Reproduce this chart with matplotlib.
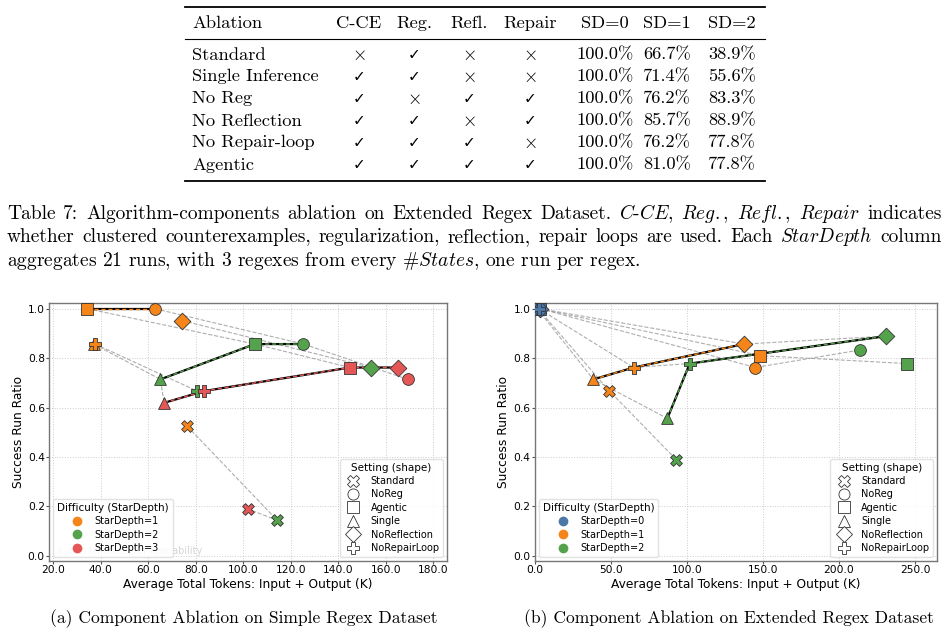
import numpy as np
import matplotlib.pyplot as plt
from matplotlib.lines import Line2D
from matplotlib.ticker import FormatStrFormatter

plt.rcParams['mathtext.fontset'] = 'cm'
SERIF = ['cmr10', 'DejaVu Serif']

# settings (marker shapes)
settings = ['Standard', 'NoReg', 'Agentic', 'Single', 'NoReflection', 'NoRepairLoop']
setting_markers = ['X', 'o', 's', '^', 'D', 'P']

# (a) simple regex dataset, per StarDepth, in settings order
simple_depths = [1, 2, 3]
simple_sd1_tokens = [76.4, 62.8, 34.3, 37.0, 74.2, 37.6]
simple_sd1_success = [0.524, 1.0, 1.0, 0.857, 0.952, 0.857]
simple_sd2_tokens = [114.3, 125.3, 104.8, 65.1, 153.8, 80.5]
simple_sd2_success = [0.143, 0.857, 0.857, 0.714, 0.762, 0.667]
simple_sd3_tokens = [101.8, 169.3, 144.9, 66.6, 165.0, 83.6]
simple_sd3_success = [0.190, 0.714, 0.762, 0.619, 0.762, 0.667]

# (b) extended regex dataset
ext_depths = [0, 1, 2]
ext_sd0_tokens = [2.0, 3.5, 3.0, 1.5, 3.2, 2.5]
ext_sd0_success = [1.0, 1.0, 1.0, 1.0, 1.0, 1.0]
ext_sd1_tokens = [48.9, 145.0, 148.2, 38.4, 137.5, 64.9]
ext_sd1_success = [0.667, 0.762, 0.810, 0.714, 0.857, 0.762]
ext_sd2_tokens = [93.0, 213.8, 245.0, 87.1, 230.9, 101.8]
ext_sd2_success = [0.389, 0.833, 0.778, 0.556, 0.889, 0.778]

depth_colors = {0: '#4c78a8', 1: '#f58518', 2: '#54a24b', 3: '#e45756'}

# table 7
table_header = ['Ablation', 'C-CE', 'Reg.', 'Refl.', 'Repair', 'SD=0', 'SD=1', 'SD=2']
table_rows = ['Standard', 'Single Inference', 'No Reg', 'No Reflection', 'No Repair-loop', 'Agentic']
col_cce = [0, 1, 1, 1, 1, 1]
col_reg = [1, 1, 0, 1, 1, 1]
col_refl = [0, 0, 1, 0, 1, 1]
col_repair = [0, 0, 1, 1, 0, 1]
col_sd0 = [100.0, 100.0, 100.0, 100.0, 100.0, 100.0]
col_sd1 = [66.7, 71.4, 76.2, 85.7, 76.2, 81.0]
col_sd2 = [38.9, 55.6, 83.3, 88.9, 77.8, 77.8]

W, H = 948, 635
fig = plt.figure(figsize=(W / 100, H / 100), dpi=100)


def fx(px):
    return px / W


def fy(py):
    return 1 - py / H


# ---- table ----
def hrule(y, lw):
    fig.add_artist(Line2D([fx(185), fx(765)], [fy(y), fy(y)], color='black', lw=lw))


hrule(6.8, 1.3)
hrule(39, 0.8)
hrule(181, 1.3)

col_x = [192, 359, 414, 469, 530, 605, 667, 732]
fs_tab = 13.3
for j, h in enumerate(table_header):
    ha = 'left' if j == 0 else 'center'
    fig.text(fx(col_x[j]), fy(28), h, ha=ha, va='baseline', fontsize=fs_tab, family=SERIF)

row_y = [59.5, 81.5, 103.5, 125.5, 147.5, 169.5]
for i, name in enumerate(table_rows):
    y = fy(row_y[i])
    fig.text(fx(col_x[0]), y, name, ha='left', va='baseline', fontsize=fs_tab, family=SERIF)
    for j, col in enumerate([col_cce, col_reg, col_refl, col_repair]):
        if col[i]:
            fig.text(fx(col_x[j + 1]), y, '\u2713', ha='center', va='baseline',
                     fontsize=11, family='DejaVu Sans')
        else:
            fig.text(fx(col_x[j + 1]), y, r'$\times$', ha='center', va='baseline',
                     fontsize=fs_tab, family=SERIF)
    for j, col in enumerate([col_sd0, col_sd1, col_sd2]):
        fig.text(fx(col_x[j + 5]), y, f'{col[i]:.1f}%', ha='center', va='baseline',
                 fontsize=fs_tab, family=SERIF)

# caption (first two lines justified)
cap1 = [r'Table', r'7:', r'Algorithm-components', r'ablation', r'on', r'Extended', r'Regex',
        r'Dataset.', r'$\mathit{C}$-$\mathit{CE}$,', r'$\mathit{Reg.}$,', r'$\mathit{Refl.}$,',
        r'$\mathit{Repair}$', r'indicates']
cap2 = [r'whether', r'clustered', r'counterexamples,', r'regularization,', r'reflection,',
        r'repair', r'loops', r'are', r'used.', r'Each', r'$\mathit{StarDepth}$', r'column']
cap3 = r'aggregates 21 runs, with 3 regexes from every $\#\mathit{States}$, one run per regex.'
fs_cap = 14

renderer = fig.canvas.get_renderer()


def justified(words, x0, x1, y):
    texts = [fig.text(0, fy(y), w, ha='left', va='baseline', fontsize=fs_cap, family=SERIF)
             for w in words]
    widths = [t.get_window_extent(renderer).width for t in texts]
    gap = (x1 - x0 - sum(widths)) / (len(words) - 1)
    x = x0
    for t, w in zip(texts, widths):
        t.set_x(fx(x))
        x += w + gap


justified(cap1, 7, 942, 219)
justified(cap2, 7, 942, 242.5)
fig.text(fx(7), fy(266), cap3, ha='left', va='baseline', fontsize=fs_cap, family=SERIF)


# ---- scatter panels ----
def frontier(tok, suc):
    pts = sorted(zip(tok, suc))
    best = max(suc)
    end = max(t for t, s in pts if s == best)
    pts = [p for p in pts if p[0] <= end]
    hull = []
    for p in pts:
        while len(hull) >= 2:
            (x1, y1), (x2, y2) = hull[-2], hull[-1]
            cross = (x2 - x1) * (p[1] - y1) - (y2 - y1) * (p[0] - x1)
            if cross >= 0:
                hull.pop()
            else:
                break
        hull.append(p)
    return hull


def panel(ax, depths, tokens, success, xlim, xticks):
    # gray dashed line per setting across difficulties
    for i in range(len(settings)):
        ax.plot([t[i] for t in tokens], [s[i] for s in success], color='#9a9a9a',
                lw=0.8, ls='--', alpha=0.8, zorder=2)
    # frontier per difficulty
    for d, t, s in zip(depths, tokens, success):
        hull = frontier(t, s)
        hx = [p[0] for p in hull]
        hy = [p[1] for p in hull]
        ax.plot(hx, hy, color='black', lw=1.6, zorder=3)
        ax.plot(hx, hy, color=depth_colors[d], lw=1.0, ls=(0, (3, 2)), zorder=3.5)
    for d, t, s in zip(depths, tokens, success):
        for i, m in enumerate(setting_markers):
            ax.scatter(t[i], s[i], marker=m, s=72, color=depth_colors[d],
                       edgecolor='#333333', linewidth=0.6, zorder=4)
    ax.set_xlim(*xlim)
    ax.set_ylim(-0.02, 1.022)
    ax.set_xticks(xticks)
    ax.set_yticks(np.arange(0, 1.01, 0.2))
    ax.xaxis.set_major_formatter(FormatStrFormatter('%.1f'))
    ax.yaxis.set_major_formatter(FormatStrFormatter('%.1f'))
    ax.tick_params(labelsize=7.7, length=2, pad=1.2, color='#555555')
    ax.grid(True, ls=':', color='#cccccc', lw=0.7)
    for sp in ax.spines.values():
        sp.set_color('#777777')
        sp.set_linewidth(1.0)
    ax.set_xlabel('Average Total Tokens: Input + Output (K)', fontsize=8.8)
    ax.set_ylabel('Success Run Ratio', fontsize=8.8)
    ax.xaxis.set_label_coords(0.5, -0.068)
    ax.yaxis.set_label_coords(-0.061, 0.5)

    diff_handles = [Line2D([], [], marker='o', ls='none', markersize=7, color=depth_colors[d],
                           markeredgecolor='none', label=f'StarDepth={d}') for d in depths]
    leg1 = ax.legend(handles=diff_handles, title='Difficulty (StarDepth)', loc='lower left',
                     fontsize=7, title_fontsize=7.5, framealpha=0.85, edgecolor='#dddddd',
                     borderaxespad=0.4, handletextpad=0.8, labelspacing=0.35)
    ax.add_artist(leg1)
    set_handles = [Line2D([], [], marker=m, ls='none', markersize=8, markerfacecolor='white',
                          markeredgecolor='#333333', markeredgewidth=0.6, label=n)
                   for n, m in zip(settings, setting_markers)]
    ax.legend(handles=set_handles, title='Setting (shape)', loc='lower right',
              fontsize=7, title_fontsize=7.5, framealpha=0.85, edgecolor='#dddddd',
              borderaxespad=0.4, handletextpad=0.8, labelspacing=0.35)


ax1 = fig.add_axes([fx(49.3), fy(560.7), fx(446.7 - 49.3), (560.7 - 303.3) / H])
panel(ax1, simple_depths,
      [simple_sd1_tokens, simple_sd2_tokens, simple_sd3_tokens],
      [simple_sd1_success, simple_sd2_success, simple_sd3_success],
      (18.3, 185.6), np.arange(20, 181, 20))
ax1.text(0.019, 0.025, 'x-axis trimmed for readability', transform=ax1.transAxes,
         fontsize=7, color='#bbbbbb', alpha=0.6, zorder=1)

ax2 = fig.add_axes([fx(535), fy(560.7), fx(937.3 - 535), (560.7 - 303.3) / H])
panel(ax2, ext_depths,
      [ext_sd0_tokens, ext_sd1_tokens, ext_sd2_tokens],
      [ext_sd0_success, ext_sd1_success, ext_sd2_success],
      (0, 264.7), np.arange(0, 251, 50))

fig.text(fx(244), fy(623), '(a) Component Ablation on Simple Regex Dataset',
         ha='center', va='baseline', fontsize=12.6, family=SERIF)
fig.text(fx(729), fy(623), '(b) Component Ablation on Extended Regex Dataset',
         ha='center', va='baseline', fontsize=12.6, family=SERIF)

fig.savefig('out.png', dpi=100)
